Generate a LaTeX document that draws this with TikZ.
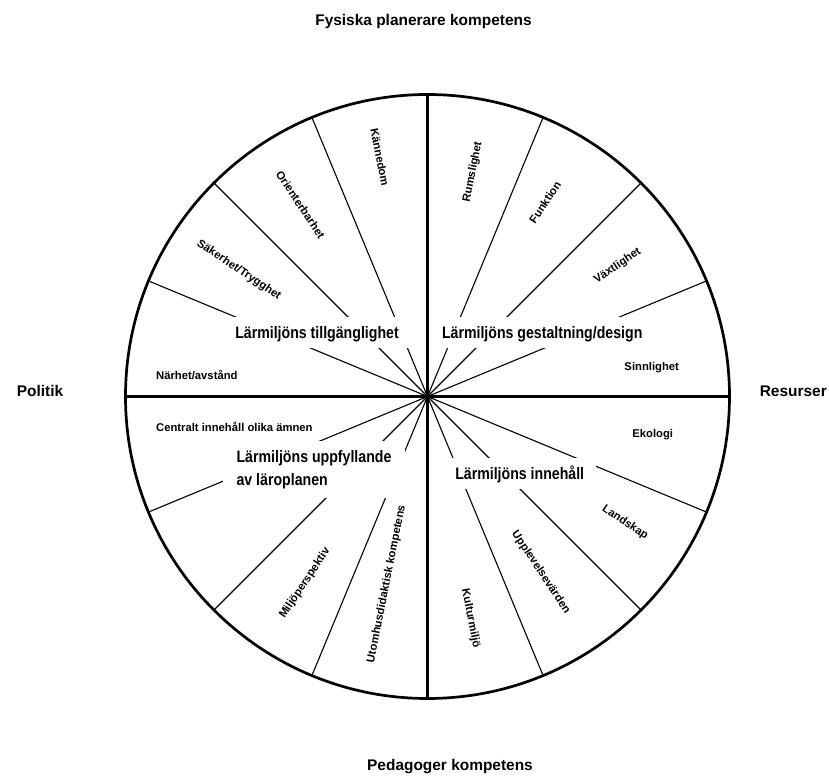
\documentclass[tikz,border=0pt]{standalone}
\usepackage{fontspec}
\setmainfont{Liberation Sans}
\newfontfamily\narrowsans{Liberation Sans}[FakeStretch=0.85]
\begin{document}
\begin{tikzpicture}[x=1bp,y=1bp,
  spoke/.style={line width=1.1bp},
  axisline/.style={line width=2.6bp},
  rim/.style={line width=2.7bp},
  bigtxt/.style={font=\narrowsans\bfseries\fontsize{16.7}{22.7}\selectfont,
    fill=white, inner xsep=12bp, inner ysep=7bp, text height=14bp, text depth=3bp},
  bigtwo/.style={font=\narrowsans\bfseries\fontsize{16.7}{22.7}\selectfont,
    fill=white, align=left, inner sep=0pt, minimum width=182bp, minimum height=57bp},
  smalltxt/.style={font=\bfseries\fontsize{11.3}{13}\selectfont, inner sep=0pt},
  outertxt/.style={font=\bfseries\fontsize{15.5}{18}\selectfont, inner sep=0pt}]
% page frame
\useasboundingbox (-427.5,-379.5) rectangle (401.5,396.5);
\coordinate (O) at (0,0);
\foreach \i in {0,...,15} {\coordinate (p\i) at (\i*22.5:302);}
% thin spokes
\foreach \i in {1,2,3,5,6,7,9,10,11,13,14,15} {\draw[spoke] (O) -- (p\i);}
% quadrant headings (white boxes interrupt the spokes)
\node[bigtxt, anchor=base] (hTill) at (-110.5,58.2) {Lärmiljöns tillgänglighet};
\node[bigtxt, anchor=base] (hGest) at (114.7,58.2) {Lärmiljöns gestaltning/design};
\node[bigtwo] (hUpp) at (-113.5,-73) {Lärmiljöns uppfyllande\\av läroplanen};
\node[bigtxt, anchor=base] (hInn) at (92.2,-82.8) {Lärmiljöns innehåll};
% axes and rim
\draw[axisline] (p0) -- (p8);
\draw[axisline] (p4) -- (p12);
\draw[rim] (O) circle (302);
% sector labels, upper left
\node[smalltxt, rotate=-78.75] (kan) at (101.25:244) {Kännedom};
\node[smalltxt, rotate=-56.25] (ori) at (123.5:230) {Orienterbarhet};
\node[smalltxt, rotate=-33.75] (sak) at (146.2:227) {Säkerhet/Trygghet};
\node[smalltxt, anchor=base west] (nar) at (-271.5,16.5) {Närhet/avstånd};
% upper right
\node[smalltxt, rotate=78.75] (rum) at (78.6:229) {Rumslighet};
\node[smalltxt, rotate=56.25] (fun) at (58.8:227) {Funktion};
\node[smalltxt, rotate=33.75] (vax) at (34.5:230.6) {Växtlighet};
\node[smalltxt, anchor=base] (sin) at (224.2,26) {Sinnlighet};
% lower right
\node[smalltxt, anchor=base] (eko) at (225.2,-41.5) {Ekologi};
\node[smalltxt, rotate=-33.75] (lan) at (-32.5:234.3) {Landskap};
\node[smalltxt, rotate=-56.25] (upl) at (-57.2:209.3) {Upplevelsevärden};
\node[smalltxt, rotate=-78.75] (kul) at (-79:226) {Kulturmiljö};
% lower left
\node[smalltxt, anchor=base west] (cen) at (-271.5,-35.2) {Centralt innehåll olika ämnen};
\node[smalltxt, rotate=56.25] (mil) at (236.7:223.4) {Miljöperspektiv};
\node[smalltxt, rotate=78.75] (uto) at (257.7:191.9) {Utomhusdidaktisk kompetens};
% outer labels
\node[outertxt, anchor=base] (top) at (-4,370.8) {Fysiska planerare kompetens};
\node[outertxt, anchor=base] (bot) at (22.5,-373.5) {Pedagoger kompetens};
\node[outertxt, anchor=base] (lft) at (-387.5,0) {Politik};
\node[outertxt, anchor=base] (rgt) at (365.8,0) {Resurser};
\end{tikzpicture}
\end{document}
